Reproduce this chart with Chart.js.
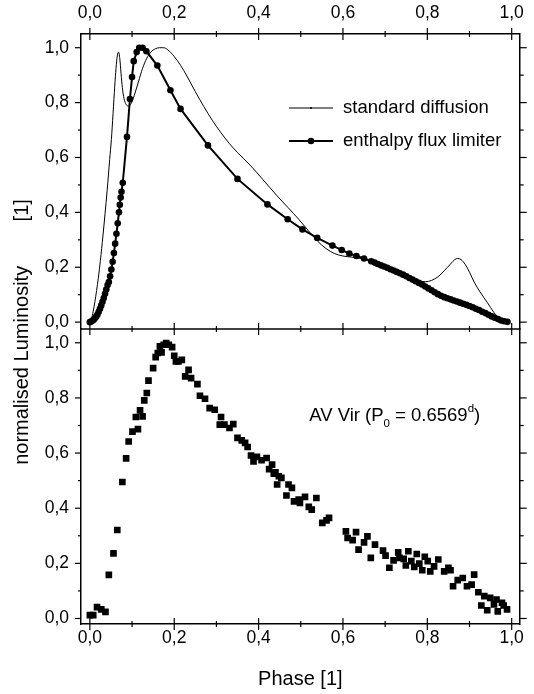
<!DOCTYPE html>
<html>
<head>
<meta charset="utf-8">
<script src="https://cdn.jsdelivr.net/npm/chart.js@4.4.1/dist/chart.umd.min.js"></script>
<style>
  html, body { margin: 0; padding: 0; background: #fff; }
</style>
</head>
<body>
<canvas id="lightCurve" width="534" height="694"></canvas>
<script>
// standard diffusion model (thin line)
const stdPhase = [0.000, 0.004, 0.008, 0.012, 0.016, 0.020, 0.025, 0.031, 0.036, 0.041, 0.047, 0.051, 0.055, 0.059, 0.062, 0.065, 0.068, 0.071, 0.074, 0.077, 0.081, 0.086, 0.092, 0.098, 0.105, 0.115, 0.125, 0.135, 0.145, 0.155, 0.165, 0.175, 0.185, 0.200, 0.215, 0.230, 0.250, 0.270, 0.290, 0.310, 0.330, 0.350, 0.380, 0.410, 0.444, 0.470, 0.495, 0.522, 0.540, 0.560, 0.580, 0.600, 0.620, 0.640, 0.660, 0.680, 0.700, 0.720, 0.740, 0.760, 0.780, 0.795, 0.810, 0.825, 0.840, 0.855, 0.865, 0.872, 0.880, 0.890, 0.900, 0.911, 0.925, 0.942, 0.958, 0.970, 0.980, 0.993];
const stdLum = [0.000, 0.012, 0.040, 0.075, 0.115, 0.160, 0.225, 0.314, 0.395, 0.480, 0.593, 0.665, 0.760, 0.860, 0.925, 0.970, 0.984, 0.960, 0.905, 0.855, 0.815, 0.793, 0.787, 0.797, 0.825, 0.875, 0.925, 0.962, 0.985, 0.996, 1.000, 1.000, 0.992, 0.968, 0.936, 0.897, 0.840, 0.786, 0.736, 0.692, 0.652, 0.618, 0.572, 0.520, 0.460, 0.417, 0.375, 0.326, 0.295, 0.268, 0.250, 0.241, 0.237, 0.233, 0.226, 0.215, 0.202, 0.189, 0.176, 0.162, 0.150, 0.147, 0.152, 0.165, 0.187, 0.212, 0.228, 0.232, 0.228, 0.210, 0.182, 0.146, 0.110, 0.072, 0.035, 0.012, 0.003, 0.000];

// enthalpy flux limiter model (line with dots)
const eflPhase = [0.000, 0.003, 0.006, 0.009, 0.012, 0.015, 0.018, 0.021, 0.024, 0.027, 0.030, 0.033, 0.036, 0.039, 0.042, 0.045, 0.048, 0.051, 0.054, 0.057, 0.060, 0.063, 0.066, 0.069, 0.071, 0.073, 0.075,
  0.078, 0.088, 0.095, 0.100, 0.104, 0.111, 0.117, 0.125, 0.134, 0.160, 0.191, 0.215, 0.280, 0.350, 0.421, 0.469, 0.504, 0.539, 0.575, 0.597, 0.615, 0.632, 0.650, 0.667,
  0.675, 0.6825, 0.690, 0.6975, 0.705, 0.7125, 0.720, 0.7275, 0.735, 0.7425, 0.750, 0.7575, 0.765, 0.7725, 0.780, 0.7875, 0.795, 0.8025, 0.810, 0.8175, 0.825, 0.8325, 0.840, 0.8475, 0.855, 0.8625, 0.870, 0.8775, 0.885, 0.8925, 0.900, 0.9075, 0.915, 0.9225, 0.930, 0.9375, 0.945, 0.9525, 0.960, 0.9675, 0.975, 0.9825, 0.990];
const eflLum = [0.000, 0.002, 0.005, 0.009, 0.014, 0.020, 0.028, 0.038, 0.049, 0.061, 0.074, 0.088, 0.103, 0.119, 0.135, 0.146, 0.167, 0.192, 0.220, 0.252, 0.286, 0.322, 0.360, 0.400, 0.428, 0.454, 0.475,
  0.508, 0.675, 0.813, 0.893, 0.951, 0.984, 1.000, 1.000, 0.987, 0.935, 0.845, 0.777, 0.644, 0.522, 0.429, 0.375, 0.338, 0.307, 0.279, 0.263, 0.250, 0.241, 0.232, 0.222,
  0.217, 0.212, 0.207, 0.203, 0.198, 0.193, 0.188, 0.183, 0.178, 0.173, 0.167, 0.161, 0.155, 0.149, 0.143, 0.137, 0.130, 0.123, 0.116, 0.109, 0.102, 0.096, 0.091, 0.087, 0.083, 0.079, 0.075, 0.071, 0.067, 0.063, 0.059, 0.054, 0.049, 0.044, 0.038, 0.033, 0.027, 0.021, 0.016, 0.011, 0.006, 0.003, 0.001];

// AV Vir observations (squares, lower panel)
const obsPhase = [0.000, 0.008, 0.017, 0.027, 0.037, 0.045, 0.056, 0.065, 0.077, 0.086, 0.092, 0.101, 0.109, 0.114, 0.119, 0.125, 0.129, 0.135, 0.139, 0.150, 0.156, 0.161, 0.166, 0.170, 0.175, 0.181, 0.187, 0.195, 0.200, 0.204, 0.210, 0.218, 0.226, 0.234, 0.240, 0.255, 0.261, 0.273, 0.284, 0.296, 0.308, 0.311, 0.319, 0.331, 0.340, 0.350, 0.360, 0.368, 0.374, 0.382, 0.388, 0.396, 0.407, 0.419, 0.425, 0.432, 0.436, 0.440, 0.444, 0.448, 0.454, 0.466, 0.471, 0.479, 0.484, 0.495, 0.498, 0.510, 0.519, 0.526, 0.537, 0.551, 0.561, 0.567, 0.607, 0.611, 0.623, 0.631, 0.637, 0.650, 0.658, 0.666, 0.676, 0.695, 0.701, 0.710, 0.720, 0.731, 0.734, 0.744, 0.749, 0.755, 0.762, 0.769, 0.775, 0.781, 0.788, 0.794, 0.801, 0.807, 0.816, 0.826, 0.840, 0.850, 0.855, 0.861, 0.872, 0.884, 0.894, 0.905, 0.911, 0.921, 0.928, 0.935, 0.942, 0.949, 0.958, 0.964, 0.967, 0.977, 0.981, 0.989];
const obsLum = [0.012, 0.012, 0.041, 0.033, 0.024, 0.158, 0.236, 0.321, 0.495, 0.581, 0.642, 0.678, 0.731, 0.687, 0.755, 0.733, 0.791, 0.818, 0.863, 0.908, 0.948, 0.963, 0.987, 0.965, 0.993, 0.999, 0.993, 0.984, 0.953, 0.932, 0.932, 0.938, 0.878, 0.902, 0.872, 0.850, 0.808, 0.797, 0.763, 0.757, 0.703, 0.731, 0.703, 0.691, 0.705, 0.655, 0.646, 0.637, 0.622, 0.591, 0.570, 0.586, 0.574, 0.582, 0.542, 0.558, 0.525, 0.530, 0.486, 0.516, 0.510, 0.446, 0.486, 0.474, 0.425, 0.431, 0.419, 0.441, 0.405, 0.395, 0.437, 0.347, 0.356, 0.365, 0.316, 0.292, 0.284, 0.313, 0.250, 0.276, 0.298, 0.220, 0.268, 0.246, 0.228, 0.184, 0.211, 0.240, 0.220, 0.216, 0.192, 0.244, 0.208, 0.187, 0.234, 0.199, 0.175, 0.224, 0.208, 0.171, 0.189, 0.214, 0.171, 0.184, 0.175, 0.117, 0.139, 0.147, 0.117, 0.123, 0.159, 0.095, 0.047, 0.081, 0.030, 0.075, 0.051, 0.069, 0.026, 0.057, 0.047, 0.033];

const xTickValues = [0.0, 0.1, 0.2, 0.3, 0.4, 0.5, 0.6, 0.7, 0.8, 0.9, 1.0];
const yTickValues = [0.0, 0.1, 0.2, 0.3, 0.4, 0.5, 0.6, 0.7, 0.8, 0.9, 1.0];
const seriesNames = ["standard diffusion", "enthalpy flux limiter"];
const starName = "AV Vir";
const periodText = "0.6569";

const fontFamily = "'Liberation Sans', Arial, sans-serif";
const tickFont = { family: fontFamily, size: 17.5 };

function toPoints(xs, ys) {
  return xs.map((x, i) => ({ x: x, y: ys[i] }));
}

function commaLabel(value) {
  return Math.round(value * 10) % 2 === 0 ? value.toFixed(1).replace(".", ",") : "";
}

function setTicks(values) {
  return function (scale) {
    scale.ticks = values.map(v => ({ value: v }));
  };
}

function line(ctx, x1, y1, x2, y2) {
  ctx.beginPath();
  ctx.moveTo(x1, y1);
  ctx.lineTo(x2, y2);
  ctx.stroke();
}

// frame ticks, separator, legend and labels
const decorPlugin = {
  id: "decor",
  afterDraw(chart) {
    const ctx = chart.ctx;
    const a = chart.chartArea;
    const sx = chart.scales.x;
    const yTop = chart.scales.yTop;
    const yBot = chart.scales.yBot;
    const sepY = yTop.bottom;

    ctx.save();
    ctx.strokeStyle = "#000";
    ctx.fillStyle = "#000";

    ctx.lineWidth = 1.5;
    line(ctx, a.left, sepY, a.right, sepY);

    ctx.lineWidth = 1.2;
    xTickValues.forEach((v, i) => {
      const px = sx.getPixelForValue(v);
      const len = i % 2 === 0 ? 6 : 3;
      line(ctx, px, a.top - len, px, a.top + len);
      line(ctx, px, sepY - len, px, sepY + len);
      line(ctx, px, a.bottom - len, px, a.bottom + len);
    });
    [yTop, yBot].forEach(s => {
      yTickValues.forEach((v, i) => {
        const py = s.getPixelForValue(v);
        const major = i % 2 === 0;
        line(ctx, a.left - (major ? 6 : 3), py, a.left, py);
        line(ctx, a.right, py, a.right + (major ? 7 : 4), py);
      });
    });

    // legend
    ctx.font = "18.5px " + fontFamily;
    ctx.textBaseline = "middle";
    ctx.textAlign = "left";
    const lx = a.left + 208;
    const rows = [a.top + 74, a.top + 107];
    rows.forEach((ly, i) => {
      const ds = chart.data.datasets[i];
      ctx.lineWidth = ds.borderWidth;
      line(ctx, lx, ly, lx + 44, ly);
      ctx.beginPath();
      ctx.arc(lx + 22, ly, i === 0 ? 1 : ds.pointRadius, 0, Math.PI * 2);
      ctx.fill();
      ctx.fillText(seriesNames[i], lx + 54, ly);
    });

    // star annotation
    ctx.textBaseline = "alphabetic";
    let tx = sx.getPixelForValue(0.52);
    const ty = yBot.getPixelForValue(0.718);
    const big = "18.5px " + fontFamily;
    const small = "11.5px " + fontFamily;
    const parts = [
      [starName + " (P", big, 0],
      ["0", small, 6],
      [" = " + periodText, big, 0],
      ["d", small, -9],
      [")", big, 0]
    ];
    parts.forEach(p => {
      ctx.font = p[1];
      ctx.fillText(p[0], tx, ty + p[2]);
      tx += ctx.measureText(p[0]).width;
    });

    // y axis title spanning both panels
    ctx.save();
    ctx.translate(22, (a.top + a.bottom) / 2 + 3);
    ctx.rotate(-Math.PI / 2);
    ctx.font = "20px " + fontFamily;
    ctx.textAlign = "center";
    ctx.textBaseline = "middle";
    ctx.fillText("normalised Luminosity        [1]", 0, 0);
    ctx.restore();

    ctx.restore();
  }
};

const noGrid = { display: false, drawTicks: false, tickLength: 0 };

const xCommon = {
  type: "linear",
  min: -0.021,
  max: 1.019,
  afterBuildTicks: setTicks(xTickValues),
  grid: noGrid,
  border: { display: true, color: "#000", width: 1.5 }
};

function yScale(side, stack, min, max) {
  return {
    type: "linear",
    position: side,
    stack: stack,
    stackWeight: 1,
    min: min,
    max: max,
    afterBuildTicks: setTicks(yTickValues),
    afterFit: s => { s.width = side === "left" ? 81 : 8; },
    ticks: {
      display: side === "left",
      callback: commaLabel,
      font: tickFont,
      color: "#000",
      padding: 12
    },
    grid: noGrid,
    border: { display: true, color: "#000", width: 1.5 }
  };
}

new Chart(document.getElementById("lightCurve"), {
  type: "scatter",
  data: {
    datasets: [
      {
        label: seriesNames[0],
        data: toPoints(stdPhase, stdLum),
        xAxisID: "x",
        yAxisID: "yTop",
        showLine: true,
        cubicInterpolationMode: "monotone",
        borderColor: "#000",
        borderWidth: 1,
        pointRadius: 0
      },
      {
        label: seriesNames[1],
        data: toPoints(eflPhase, eflLum),
        xAxisID: "x",
        yAxisID: "yTop",
        showLine: true,
        borderColor: "#000",
        borderWidth: 2,
        pointRadius: 3.3,
        pointBackgroundColor: "#000",
        pointBorderWidth: 0
      },
      {
        label: starName,
        data: toPoints(obsPhase, obsLum),
        xAxisID: "x",
        yAxisID: "yBot",
        pointStyle: "rect",
        pointRadius: 4.7,
        pointBackgroundColor: "#000",
        pointBorderWidth: 0
      }
    ]
  },
  options: {
    responsive: false,
    animation: false,
    layout: { padding: 0 },
    plugins: {
      legend: { display: false },
      tooltip: { enabled: false }
    },
    scales: {
      x: Object.assign({}, xCommon, {
        position: "bottom",
        afterFit: s => { s.height = 70; },
        ticks: { callback: commaLabel, font: tickFont, color: "#000", padding: 4, maxRotation: 0, autoSkip: false },
        title: { display: true, text: "Phase [1]", color: "#000", font: { family: fontFamily, size: 20 }, padding: { top: 0, bottom: 3 } }
      }),
      x2: Object.assign({}, xCommon, {
        position: "top",
        afterFit: s => { s.height = 34; },
        ticks: { callback: commaLabel, font: tickFont, color: "#000", padding: 10, maxRotation: 0, autoSkip: false }
      }),
      // in a left/right stack the later axis is placed on top
      yBot: yScale("left", "lum", -0.02, 1.05),
      yTop: yScale("left", "lum", -0.025, 1.05),
      yBotR: yScale("right", "lumR", -0.02, 1.05),
      yTopR: yScale("right", "lumR", -0.025, 1.05)
    }
  },
  plugins: [decorPlugin]
});
</script>
</body>
</html>
